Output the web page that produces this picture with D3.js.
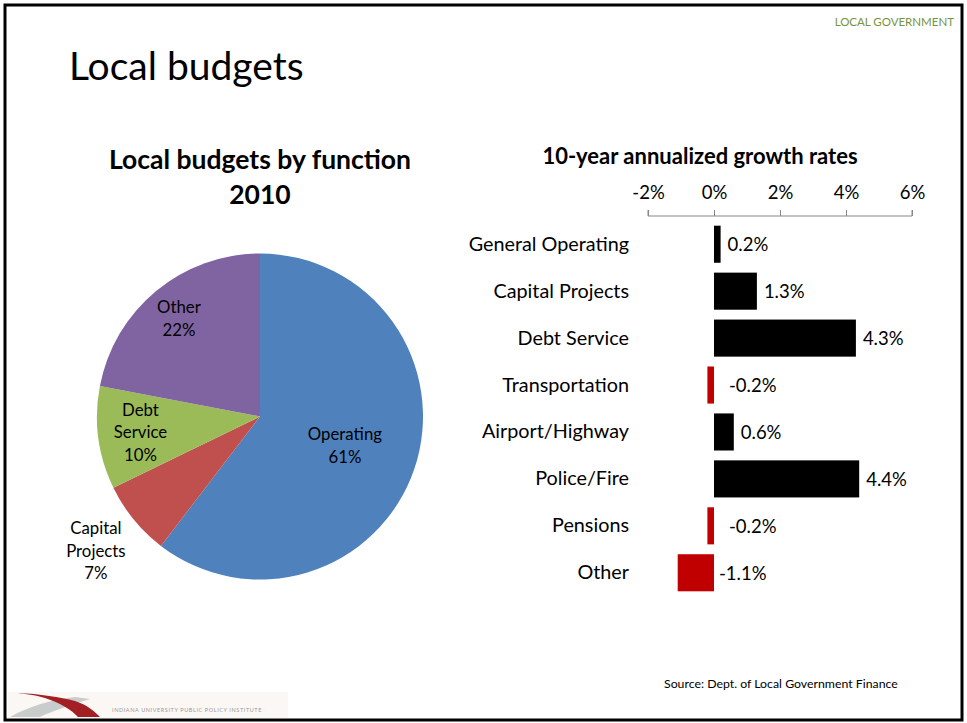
<!DOCTYPE html>
<html>
<head>
<meta charset="utf-8">
<script src="https://cdn.jsdelivr.net/npm/d3@7"></script>
<style>
  html, body { margin: 0; padding: 0; background: #fff; }
  svg { display: block; font-family: Lato, "Open Sans", sans-serif; }
</style>
</head>
<body>
<svg id="chart" width="967" height="723"></svg>
<script>
// ---- data ----
const pieCategories = ["Operating", "Capital\nProjects", "Debt\nService", "Other"];
const pieShares = [60.4, 7.4, 10.2, 22.0];
const pieLabels = ["61%", "7%", "10%", "22%"];
const pieColors = ["#4f81bd", "#c0504d", "#9bbb59", "#8064a2"];

const barCategories = ["General Operating", "Capital Projects", "Debt Service", "Transportation",
                       "Airport/Highway", "Police/Fire", "Pensions", "Other"];
const barValues = [0.2, 1.3, 4.3, -0.2, 0.6, 4.4, -0.2, -1.1];
const barTicks = [-2, 0, 2, 4, 6];

const svg = d3.select("#chart");

// border
svg.append("rect").attr("x", 5).attr("y", 5).attr("width", 957).attr("height", 715)
  .attr("fill", "none").attr("stroke", "#000").attr("stroke-width", 3);

// header
svg.append("text").attr("x", 954).attr("y", 26).attr("text-anchor", "end")
  .attr("font-size", 11.5).attr("fill", "#77933c").text("LOCAL GOVERNMENT");
svg.append("text").attr("x", 69).attr("y", 80)
  .attr("font-size", 39).attr("fill", "#000").text("Local budgets");

// ---- pie ----
const pcx = 260, pcy = 416.5, pr = 163;
svg.append("text").attr("x", 260).attr("y", 169).attr("text-anchor", "middle")
  .attr("font-size", 26.5).attr("font-weight", "bold").text("Local budgets by function");
svg.append("text").attr("x", 260).attr("y", 204).attr("text-anchor", "middle")
  .attr("font-size", 26.5).attr("font-weight", "bold").text("2010");

const pie = d3.pie().sort(null).value(d => d)(pieShares);
const arc = d3.arc().innerRadius(0).outerRadius(pr);
const pg = svg.append("g").attr("transform", `translate(${pcx},${pcy})`);
pg.selectAll("path").data(pie).join("path")
  .attr("d", arc).attr("fill", (d, i) => pieColors[i]);

// label radii as fraction of pie radius (capital projects sits outside)
const labelRadius = [0.55, 1.30, 0.74, 0.78];
pie.forEach((d, i) => {
  const la = d3.arc().innerRadius(pr * labelRadius[i]).outerRadius(pr * labelRadius[i]);
  const [x, y] = la.centroid(d);
  const lines = pieCategories[i].split("\n").concat([pieLabels[i]]);
  const lh = 22.5;
  const t = pg.append("text").attr("text-anchor", "middle").attr("font-size", 16.8).attr("fill", "#000");
  lines.forEach((ln, j) => {
    t.append("tspan").attr("x", x).attr("y", y + (j - (lines.length - 1) / 2) * lh + 6).text(ln);
  });
});

// ---- bars ----
svg.append("text").attr("x", 700).attr("y", 164).attr("text-anchor", "middle")
  .attr("font-size", 22).attr("font-weight", "bold").text("10-year annualized growth rates");

const x = d3.scaleLinear().domain([-2, 6]).range([648, 912]);
const y = d3.scaleBand().domain(barCategories).range([221, 596]).paddingInner(0.21).paddingOuter(0.1);

const axis = svg.append("g").attr("transform", "translate(0,216)")
  .call(d3.axisTop(x).tickValues(barTicks).tickFormat(d => d + "%").tickSize(6).tickPadding(11));
axis.select(".domain").attr("stroke", "#868686").attr("d", `M${x(-2)},-6V0H${x(6)}V-6`);
axis.selectAll(".tick line").attr("stroke", "#868686");
axis.selectAll(".tick text").attr("font-size", 18.5).attr("font-family", "Lato, sans-serif").attr("fill", "#000");

svg.append("g").selectAll("rect").data(barValues).join("rect")
  .attr("x", d => x(Math.min(0, d)))
  .attr("y", (d, i) => y(barCategories[i]))
  .attr("width", d => Math.abs(x(d) - x(0)))
  .attr("height", y.bandwidth())
  .attr("fill", d => d < 0 ? "#c00000" : "#000");

svg.append("g").selectAll("text.cat").data(barCategories).join("text")
  .attr("class", "cat")
  .attr("x", 629).attr("y", d => y(d) + y.bandwidth() / 2 + 6.5)
  .attr("text-anchor", "end").attr("font-size", 19.8).text(d => d);

svg.append("g").selectAll("text.val").data(barValues).join("text")
  .attr("class", "val")
  .attr("x", d => d < 0 ? x(0) + (d < -0.5 ? 5 : 15) : x(d) + 7)
  .attr("y", (d, i) => y(barCategories[i]) + y.bandwidth() / 2 + 7)
  .attr("font-size", 18.5).text(d => d.toFixed(1) + "%");

// source
svg.append("text").attr("x", 664).attr("y", 688).attr("font-size", 12.3).attr("fill", "#000")
  .text("Source: Dept. of Local Government Finance");

// logo (approximation)
const logo = svg.append("g");
logo.append("rect").attr("x", 8).attr("y", 692).attr("width", 280).attr("height", 26).attr("fill", "#fbf7f4");
logo.append("path").attr("d", "M10,717 C30,706 50,700 75,697 L90,699 C70,705 50,712 40,717 Z").attr("fill", "#c9cccc");
logo.append("path").attr("d", "M18,693 C40,694 60,697 75,701 C88,705 95,712 100,717 L78,717 C72,710 60,703 45,698 C35,695 25,694 18,693 Z").attr("fill", "#a21f24");
logo.append("text").attr("x", 112).attr("y", 712).attr("font-size", 5.5).attr("fill", "#9a9a9a")
  .attr("letter-spacing", 0.6).text("INDIANA UNIVERSITY PUBLIC POLICY INSTITUTE");
</script>
</body>
</html>
